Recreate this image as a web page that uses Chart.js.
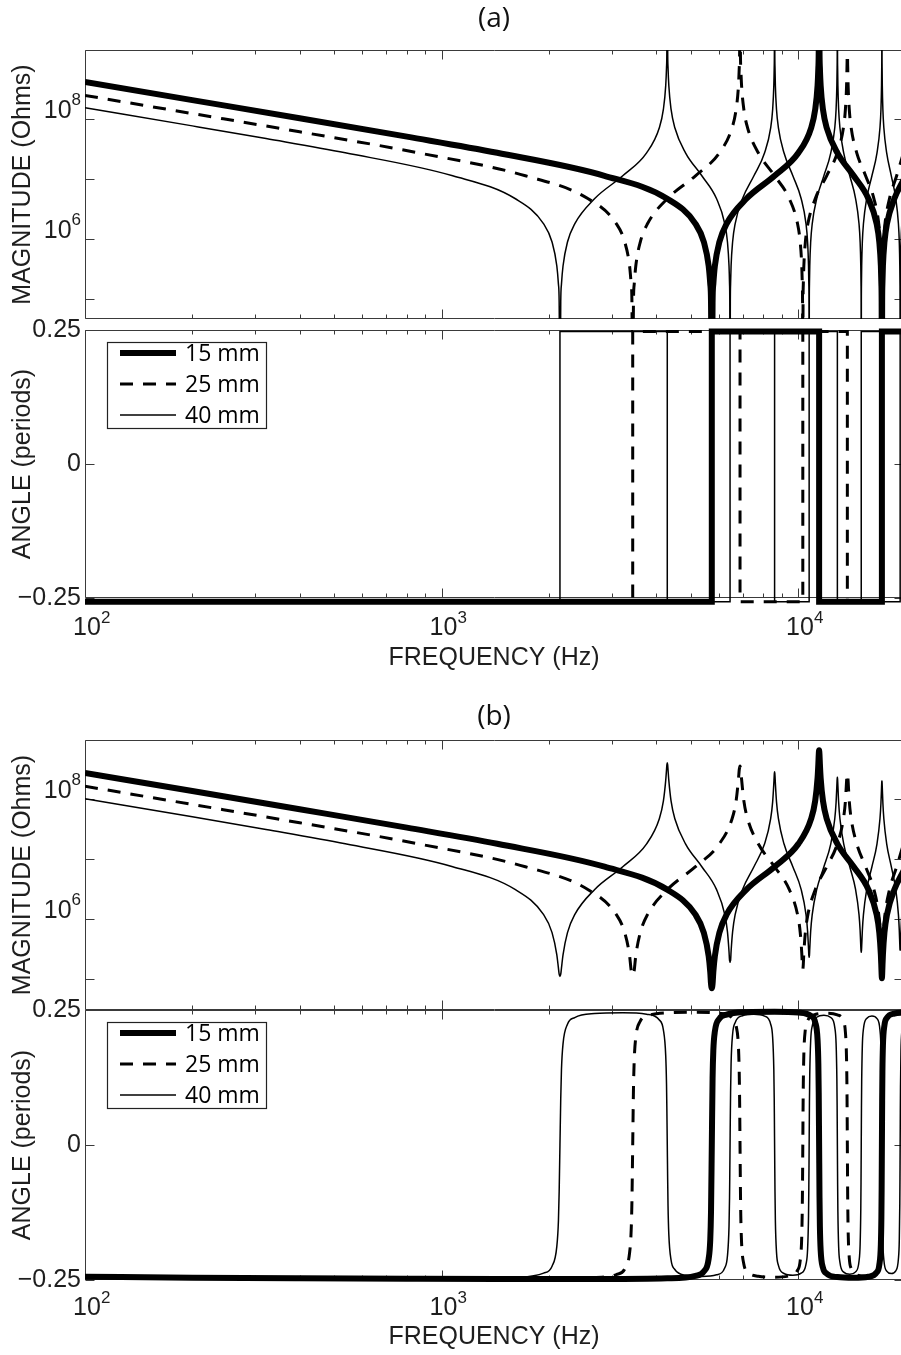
<!DOCTYPE html>
<html>
<head>
<meta charset="utf-8">
<title>Line impedance: magnitude and angle</title>
<script src="https://cdn.jsdelivr.net/npm/chart.js@4.4.1/dist/chart.umd.min.js"></script>
<style>
  html, body { margin: 0; padding: 0; background: #fff; }
  #figure { position: relative; width: 901px; height: 1355px; overflow: hidden; background: #fff; }
  #figure canvas { position: absolute; left: 0; }
</style>
</head>
<body>
<div id="figure">
  <canvas id="mag-a" width="910" height="330" style="top:0px"></canvas>
  <canvas id="ang-a" width="910" height="380" style="top:300px"></canvas>
  <canvas id="mag-b" width="910" height="320" style="top:690px"></canvas>
  <canvas id="ang-b" width="910" height="375" style="top:980px"></canvas>
</div>
<script>
Chart.defaults.font.family = '"Liberation Sans", Arial, sans-serif';

const seriesLabels = ['15 mm', '25 mm', '40 mm'];

// frequency grids (Hz)
const freq15 = [100, 200, 400, 800, 1433, 2865, 4298, 5157, 5444, 5615, 5673, 5701, 5730,
  5759, 5787, 5845, 6017, 6303, 7163, 8595, 10028, 10887, 11174, 11345, 11403, 11431, 11460,
  11489, 11517, 11575, 11747, 12033, 12893, 14325, 15758, 16617, 16904, 17075, 17132, 17161, 17190,
  17219, 17247, 17305, 17477, 17763, 18623, 19769];

const freq25 = [100, 200, 400, 860, 1719, 2579, 3094, 3266, 3369, 3404, 3421, 3438,
  3455, 3472, 3507, 3610, 3782, 4298, 5157, 6017, 6532, 6704, 6807, 6842, 6859, 6876,
  6893, 6910, 6945, 7048, 7220, 7736, 8595, 9455, 9970, 10142, 10245, 10280, 10297, 10314,
  10331, 10348, 10383, 10486, 10658, 11174, 12033, 12893, 13408, 13580, 13683, 13718, 13735, 13752,
  13769, 13786, 13821, 13924, 14096, 14612, 15471, 16331, 16846, 17018, 17121, 17156, 17173, 17190,
  17207, 17224, 17259, 17362, 17534, 18050, 18909, 19769];

const freq40 = [100, 200, 322, 537, 1075, 1612, 1934, 2042, 2106, 2128, 2138, 2149,
  2160, 2170, 2192, 2256, 2364, 2686, 3224, 3761, 4083, 4191, 4255, 4277, 4287, 4298,
  4309, 4319, 4341, 4405, 4513, 4835, 5373, 5910, 6232, 6340, 6404, 6426, 6436, 6447,
  6458, 6469, 6490, 6554, 6662, 6984, 7522, 8059, 8381, 8489, 8553, 8575, 8585, 8596,
  8607, 8618, 8639, 8703, 8811, 9133, 9671, 10208, 10530, 10638, 10702, 10723, 10734, 10745,
  10756, 10766, 10788, 10852, 10960, 11282, 11820, 12357, 12679, 12787, 12851, 12873, 12883, 12894,
  12905, 12915, 12937, 13001, 13109, 13431, 13969, 14506, 14828, 14936, 15000, 15022, 15032, 15043,
  15054, 15064, 15086, 15150, 15258, 15580, 16118, 16655, 16977, 17085, 17149, 17171, 17181, 17192,
  17203, 17213, 17235, 17299, 17407, 17729, 18267, 18804, 19126, 19234, 19298, 19320, 19330, 19341,
  19352, 19362, 19384, 19448, 19556, 19771];

// (a) magnitude, Ohms
const magA15 = [4.12e8, 2.06e8, 1.03e8, 5.07e7, 2.73e7, 1.13e7, 4.68e6, 1.79e6, 8.89e5, 3.55e5, 1.77e5, 8.87e4, 1e3,
  8.87e4, 1.77e5, 3.55e5, 8.89e5, 1.79e6, 4.68e6, 1.13e7, 2.73e7, 7.13e7, 1.44e8, 3.60e8, 7.19e8, 1.44e9, 1e11,
  1.44e9, 7.19e8, 3.60e8, 1.44e8, 7.13e7, 2.73e7, 1.13e7, 4.68e6, 1.79e6, 8.89e5, 3.55e5, 1.77e5, 8.87e4, 1e3,
  8.87e4, 1.77e5, 3.55e5, 8.89e5, 1.79e6, 4.68e6, 9.66e6];

const magA25 = [2.47e8, 1.23e8, 6.11e7, 2.73e7, 1.13e7, 4.68e6, 1.79e6, 8.89e5, 3.55e5, 1.77e5, 8.87e4, 1e3,
  8.87e4, 1.77e5, 3.55e5, 8.89e5, 1.79e6, 4.68e6, 1.13e7, 2.73e7, 7.13e7, 1.44e8, 3.60e8, 7.19e8, 1.44e9, 1e11,
  1.44e9, 7.19e8, 3.60e8, 1.44e8, 7.13e7, 2.73e7, 1.13e7, 4.68e6, 1.79e6, 8.89e5, 3.55e5, 1.77e5, 8.87e4, 1e3,
  8.87e4, 1.77e5, 3.55e5, 8.89e5, 1.79e6, 4.68e6, 1.13e7, 2.73e7, 7.13e7, 1.44e8, 3.60e8, 7.19e8, 1.44e9, 1e11,
  1.44e9, 7.19e8, 3.60e8, 1.44e8, 7.13e7, 2.73e7, 1.13e7, 4.68e6, 1.79e6, 8.89e5, 3.55e5, 1.77e5, 8.87e4, 1e3,
  8.87e4, 1.77e5, 3.55e5, 8.89e5, 1.79e6, 4.68e6, 1.13e7, 2.73e7];

const magA40 = [1.54e8, 7.67e7, 4.71e7, 2.73e7, 1.13e7, 4.68e6, 1.79e6, 8.89e5, 3.55e5, 1.77e5, 8.87e4, 1e3,
  8.87e4, 1.77e5, 3.55e5, 8.89e5, 1.79e6, 4.68e6, 1.13e7, 2.73e7, 7.13e7, 1.44e8, 3.60e8, 7.19e8, 1.44e9, 1e11,
  1.44e9, 7.19e8, 3.60e8, 1.44e8, 7.13e7, 2.73e7, 1.13e7, 4.68e6, 1.79e6, 8.89e5, 3.55e5, 1.77e5, 8.87e4, 1e3,
  8.87e4, 1.77e5, 3.55e5, 8.89e5, 1.79e6, 4.68e6, 1.13e7, 2.73e7, 7.13e7, 1.44e8, 3.60e8, 7.19e8, 1.44e9, 1e11,
  1.44e9, 7.19e8, 3.60e8, 1.44e8, 7.13e7, 2.73e7, 1.13e7, 4.68e6, 1.79e6, 8.89e5, 3.55e5, 1.77e5, 8.87e4, 1e3,
  8.87e4, 1.77e5, 3.55e5, 8.89e5, 1.79e6, 4.68e6, 1.13e7, 2.73e7, 7.13e7, 1.44e8, 3.60e8, 7.19e8, 1.44e9, 1e11,
  1.44e9, 7.19e8, 3.60e8, 1.44e8, 7.13e7, 2.73e7, 1.13e7, 4.68e6, 1.79e6, 8.89e5, 3.55e5, 1.77e5, 8.87e4, 1e3,
  8.87e4, 1.77e5, 3.55e5, 8.89e5, 1.79e6, 4.68e6, 1.13e7, 2.73e7, 7.13e7, 1.44e8, 3.60e8, 7.19e8, 1.44e9, 1e11,
  1.44e9, 7.19e8, 3.60e8, 1.44e8, 7.13e7, 2.73e7, 1.13e7, 4.68e6, 1.79e6, 8.89e5, 3.55e5, 1.77e5, 8.87e4, 1e3,
  8.87e4, 1.77e5, 3.55e5, 8.89e5, 1.79e6, 3.67e6];

// (a) angle, periods (ideal steps)
const stepFreq15 = [100, 5730, 11460, 17190, 19800];
const stepAngA15 = [-0.257, 0.247, -0.257, 0.247, 0.247];
const stepFreq25 = [100, 3438, 6876, 10314, 13752, 17190, 19800];
const stepAngA25 = [-0.257, 0.247, -0.257, 0.247, -0.257, 0.247, 0.247];
const stepFreq40 = [100, 2149, 4298, 6447, 8596, 10745, 12894, 15043, 17192, 19341, 19800];
const stepAngA40 = [-0.257, 0.247, -0.257, 0.247, -0.257, 0.247, -0.257, 0.247, -0.257, 0.247, 0.247];

// (b) magnitude, Ohms
const magB15 = [2.71e8, 1.36e8, 6.75e7, 3.33e7, 1.79e7, 7.43e6, 3.08e6, 1.18e6, 5.87e5, 2.41e5, 1.31e5, 8.3e4, 7.0e4,
  8.3e4, 1.31e5, 2.41e5, 5.87e5, 1.18e6, 3.08e6, 7.43e6, 1.79e7, 4.69e7, 9.35e7, 2.23e8, 3.85e8, 5.41e8, 6.5e8,
  5.41e8, 3.85e8, 2.23e8, 9.35e7, 4.69e7, 1.79e7, 7.43e6, 3.08e6, 1.18e6, 5.93e5, 2.55e5, 1.55e5, 1.18e5, 1.03e5,
  1.18e5, 1.55e5, 2.55e5, 5.93e5, 1.18e6, 3.08e6, 6.35e6];

const magB25 = [1.63e8, 8.11e7, 4.02e7, 1.79e7, 7.43e6, 3.08e6, 1.18e6, 5.90e5, 2.45e5, 1.40e5, 1.25e5, 1.15e5,
  1.25e5, 1.40e5, 2.45e5, 5.90e5, 1.18e6, 3.08e6, 7.43e6, 1.79e7, 4.69e7, 9.29e7, 2.15e8, 3.1e8, 3.35e8, 3.55e8,
  3.35e8, 3.1e8, 2.15e8, 9.29e7, 4.69e7, 1.79e7, 7.43e6, 3.08e6, 1.18e6, 6.0e5, 2.69e5, 1.77e5, 1.55e5, 1.45e5,
  1.55e5, 1.77e5, 2.69e5, 6.0e5, 1.18e6, 3.08e6, 7.43e6, 1.79e7, 4.69e7, 9.14e7, 1.98e8, 2.45e8, 2.55e8, 2.63e8,
  2.55e8, 2.45e8, 1.98e8, 9.14e7, 4.69e7, 1.79e7, 7.43e6, 3.08e6, 1.18e6, 6.10e5, 2.89e5, 2.07e5, 1.81e5, 1.71e5,
  1.81e5, 2.07e5, 2.89e5, 6.10e5, 1.18e6, 3.08e6, 7.43e6, 1.79e7];

const magB40 = [1.01e8, 5.05e7, 3.10e7, 1.79e7, 7.43e6, 3.08e6, 1.18e6, 5.92e5, 2.53e5, 1.52e5, 1.2e5, 1.1e5,
  1.2e5, 1.52e5, 2.53e5, 5.93e5, 1.18e6, 3.08e6, 7.43e6, 1.79e7, 4.69e7, 9.20e7, 2.04e8, 3.07e8, 3.7e8, 4.0e8,
  3.7e8, 3.07e8, 2.04e8, 9.20e7, 4.69e7, 1.79e7, 7.43e6, 3.08e6, 1.18e6, 6.08e5, 2.87e5, 2.04e5, 2.0e5, 1.9e5,
  2.0e5, 2.04e5, 2.87e5, 6.08e5, 1.18e6, 3.08e6, 7.43e6, 1.79e7, 4.69e7, 8.95e7, 1.82e8, 2.44e8, 2.7e8, 2.85e8,
  2.7e8, 2.44e8, 1.82e8, 8.95e7, 4.69e7, 1.79e7, 7.43e6, 3.08e6, 1.18e6, 6.24e5, 3.18e5, 2.46e5, 2.4e5, 2.3e5,
  2.4e5, 2.46e5, 3.18e5, 6.24e5, 1.18e6, 3.08e6, 7.43e6, 1.79e7, 4.69e7, 8.75e7, 1.66e8, 2.09e8, 2.2e8, 2.3e8,
  2.2e8, 2.09e8, 1.66e8, 8.75e7, 4.69e7, 1.79e7, 7.43e6, 3.08e6, 1.18e6, 6.38e5, 3.47e5, 2.95e5, 2.9e5, 2.8e5,
  2.9e5, 2.95e5, 3.47e5, 6.38e5, 1.18e6, 3.08e6, 7.43e6, 1.79e7, 4.69e7, 8.55e7, 1.53e8, 1.85e8, 1.95e8, 2.0e8,
  1.95e8, 1.85e8, 1.53e8, 8.55e7, 4.69e7, 1.79e7, 7.43e6, 3.08e6, 1.18e6, 6.46e5, 3.72e5, 3.13e5, 3.05e5, 3.0e5,
  3.05e5, 3.13e5, 3.72e5, 6.46e5, 1.18e6, 2.42e6];

// (b) angle, periods
const angB15 = [-0.2439, -0.2457, -0.2469, -0.2478, -0.2482, -0.2482, -0.2469, -0.2422, -0.2342, -0.2107, -0.1755, -0.1237, 0,
  0.1237, 0.1751, 0.2104, 0.2338, 0.2414, 0.2460, 0.2469, 0.2453, 0.2387, 0.2272, 0.1951, 0.1508, 0.0967, 0,
  -0.0967, -0.1508, -0.1951, -0.2272, -0.2381, -0.2446, -0.2460, -0.2440, -0.2360, -0.2221, -0.1840, -0.1351, -0.0822, 0,
  0.0822, 0.1351, 0.1840, 0.2221, 0.2355, 0.2435, 0.2452];

const angB25 = [-0.2439, -0.2456, -0.2469, -0.2477, -0.2477, -0.2460, -0.2399, -0.2297, -0.2000, -0.1579, -0.1036, 0,
  0.1036, 0.1576, 0.1995, 0.2292, 0.2389, 0.2448, 0.2460, 0.2439, 0.2354, 0.2207, 0.1808, 0.1309, 0.0787, 0,
  -0.0787, -0.1309, -0.1808, -0.2207, -0.2347, -0.2430, -0.2448, -0.2423, -0.2320, -0.2143, -0.1678, -0.1148, -0.0660, 0,
  0.0660, 0.1148, 0.1678, 0.2143, 0.2314, 0.2416, 0.2439, 0.2410, 0.2292, 0.2090, 0.1576, 0.1036, 0.0580, 0,
  -0.0580, -0.1036, -0.1576, -0.2090, -0.2286, -0.2404, -0.2430, -0.2399, -0.2267, -0.2044, -0.1492, -0.0952, -0.0523, 0,
  0.0523, 0.0952, 0.1492, 0.2044, 0.2262, 0.2394, 0.2423, 0.2389];

const angB40 = [-0.2439, -0.2456, -0.2465, -0.2471, -0.2471, -0.2449, -0.2373, -0.2244, -0.1876, -0.1401, -0.0864, 0,
  0.0864, 0.1398, 0.1874, 0.2237, 0.2359, 0.2434, 0.2449, 0.2422, 0.2315, 0.2132, 0.1655, 0.1124, 0.0641, 0,
  -0.0641, -0.1124, -0.1655, -0.2132, -0.2306, -0.2412, -0.2434, -0.2403, -0.2273, -0.2052, -0.1507, -0.0967, -0.0533, 0,
  0.0533, 0.0967, 0.1507, 0.2052, 0.2266, 0.2394, 0.2422, 0.2387, 0.2237, 0.1988, 0.1397, 0.0864, 0.0466, 0,
  -0.0466, -0.0864, -0.1397, -0.1988, -0.2230, -0.2380, -0.2412, -0.2373, -0.2206, -0.1932, -0.1309, -0.0787, -0.0419, 0,
  0.0419, 0.0787, 0.1309, 0.1932, 0.2201, 0.2366, 0.2403, 0.2360, 0.2178, 0.1883, 0.1237, 0.0727, 0.0384, 0,
  -0.0384, -0.0727, -0.1237, -0.1883, -0.2173, -0.2354, -0.2394, -0.2349, -0.2152, -0.1839, -0.1175, -0.0680, -0.0356, 0,
  0.0356, 0.0680, 0.1175, 0.1839, 0.2148, 0.2344, 0.2387, 0.2339, 0.2128, 0.1798, 0.1123, 0.0641, 0.0334, 0,
  -0.0334, -0.0641, -0.1123, -0.1798, -0.2124, -0.2335, -0.2380, -0.2330, -0.2106, -0.1762, -0.1077, -0.0608, -0.0316, 0,
  0.0316, 0.0608, 0.1077, 0.1762, 0.2103, 0.2287];

// ticks
const freqTicks = [100, 1000, 10000];
const freqTickLabels = ['10^2', '10^3', '10^4'];
const freqMinorTicks = [200, 300, 400, 500, 600, 700, 800, 900, 2000, 3000, 4000, 5000, 6000, 7000, 8000, 9000];
const magTicks = [1e5, 1e6, 1e7, 1e8];
const magTickLabels = ['', '10^6', '', '10^8'];
const angTicks = [-0.25, 0, 0.25];
const angTickLabels = ['\u22120.25', '0', '0.25'];

const X_MIN = 100;
const X_MAX = 19700;

const lineWidths = [6, 3, 1.5];
const lineDashes = [[], [13, 10], []];

const toPoints = (xs, ys) => xs.map((x, i) => ({ x: x, y: ys[i] }));

const makeDatasets = (series, extra) => series.map(([xs, ys], i) => ({
  label: seriesLabels[i],
  data: toPoints(xs, ys),
  borderColor: '#000',
  borderWidth: lineWidths[i],
  borderDash: lineDashes[i],
  pointRadius: 0,
  fill: false,
  ...extra
}));

// draws a "10^n" or plain label; align is 'right' or 'center' (center on the base part)
const drawTickText = (ctx, text, x, y, align) => {
  const parts = text.split('^');
  ctx.font = '25px "Liberation Sans", Arial, sans-serif';
  const wBase = ctx.measureText(parts[0]).width;
  if (parts.length === 1) {
    ctx.textAlign = align;
    ctx.textBaseline = 'middle';
    ctx.fillText(parts[0], x, y);
    return;
  }
  ctx.font = '17px "Liberation Sans", Arial, sans-serif';
  const wExp = ctx.measureText(parts[1]).width;
  const left = align === 'right' ? x - wBase - wExp : x - wBase / 2;
  ctx.textAlign = 'left';
  ctx.textBaseline = 'alphabetic';
  ctx.fillText(parts[1], left + wBase, y - 12.5);
  ctx.font = '25px "Liberation Sans", Arial, sans-serif';
  ctx.fillText(parts[0], left, y);
};

// box, inward ticks, tick labels and the legend, MATLAB style
const axisDecor = {
  id: 'axisDecor',
  beforeDatasetsDraw(chart, args, opts) {
    const { ctx, chartArea: a } = chart;
    const xs = chart.scales.x;
    const ys = chart.scales.y;
    const L = Math.round(a.left) + 0.5, R = Math.round(a.right) + 0.5;
    const T = Math.round(a.top) + 0.5, B = Math.round(a.bottom) - 0.5;
    ctx.save();
    ctx.strokeStyle = '#3a3a3a';
    ctx.lineWidth = 1;
    ctx.beginPath();
    ctx.rect(L, T, R - L, B - T);
    freqTicks.concat(freqMinorTicks).forEach((v) => {
      const len = freqTicks.includes(v) ? 9 : 4;
      const px = Math.round(xs.getPixelForValue(v)) + 0.5;
      ctx.moveTo(px, T); ctx.lineTo(px, T + len);
      ctx.moveTo(px, B); ctx.lineTo(px, B - len);
    });
    opts.yTicks.forEach((v) => {
      const py = Math.round(ys.getPixelForValue(v)) + 0.5;
      ctx.moveTo(L, py); ctx.lineTo(L + 9, py);
      ctx.moveTo(R, py); ctx.lineTo(R - 9, py);
    });
    ctx.stroke();
    ctx.restore();
  },
  afterDraw(chart, args, opts) {
    const { ctx, chartArea: a } = chart;
    const xs = chart.scales.x;
    const ys = chart.scales.y;
    ctx.save();
    ctx.fillStyle = '#1e1e1e';
    opts.yTicks.forEach((v, i) => {
      const label = opts.yLabels[i];
      if (!label) return;
      const py = ys.getPixelForValue(v);
      drawTickText(ctx, label, a.left - 4, label.includes('^') ? py - 1 : py, 'right');
    });
    if (opts.xLabels) {
      freqTicks.forEach((v, i) => {
        drawTickText(ctx, freqTickLabels[i], xs.getPixelForValue(v) + 2, a.bottom + opts.xLabelGap, 'center');
      });
    }
    if (opts.legend) {
      const lx = a.left + 22, ly = Math.round(a.top) + 12;
      ctx.fillStyle = '#fff';
      ctx.fillRect(lx, ly, 159, 86);
      ctx.strokeStyle = '#222';
      ctx.lineWidth = 1.2;
      ctx.strokeRect(lx + 0.5, ly + 0.5, 159, 86);
      ctx.font = '23px "Open Sans", "Noto Sans", sans-serif';
      ctx.textAlign = 'left';
      ctx.textBaseline = 'middle';
      chart.data.datasets.forEach((ds, i) => {
        const rowY = ly + 11 + i * 31;
        ctx.beginPath();
        ctx.setLineDash(ds.borderDash);
        ctx.lineWidth = ds.borderWidth;
        ctx.strokeStyle = '#000';
        ctx.moveTo(lx + 13, rowY);
        ctx.lineTo(lx + 69, rowY);
        ctx.stroke();
        ctx.setLineDash([]);
        ctx.fillStyle = '#000';
        ctx.fillText(ds.label, lx + 78, rowY + 1);
      });
    }
    ctx.restore();
  }
};

const titleFont = { family: '"Liberation Sans", Arial, sans-serif', size: 25 };

const makePanel = (canvasId, p) => new Chart(document.getElementById(canvasId), {
  type: 'line',
  data: { datasets: p.datasets },
  options: {
    responsive: false,
    animation: false,
    events: [],
    layout: { padding: p.padding },
    plugins: {
      legend: { display: false },
      tooltip: { enabled: false },
      title: p.title ? {
        display: true,
        text: p.title,
        fullSize: false,
        color: '#111',
        font: { family: '"Open Sans", "Noto Sans", sans-serif', size: 28, weight: 'normal' },
        padding: p.titlePadding
      } : { display: false },
      axisDecor: p.decor
    },
    scales: {
      x: {
        type: 'logarithmic',
        min: X_MIN,
        max: X_MAX,
        display: p.xTitle ? true : false,
        grid: { display: false },
        border: { display: false },
        ticks: { display: false },
        title: p.xTitle ? { display: true, text: p.xTitle, color: '#1e1e1e', font: titleFont, padding: { top: 0, bottom: p.xTitlePad } } : { display: false },
        afterFit: (scale) => { scale.height = p.xHeight || 0; }
      },
      y: {
        type: p.yType,
        min: p.yMin,
        max: p.yMax,
        grid: { display: false },
        border: { display: false },
        ticks: { display: false },
        title: { display: true, text: p.yTitle, color: '#1e1e1e', font: titleFont, padding: { top: 8, bottom: 0 } },
        afterFit: (scale) => { scale.width = 85; }
      }
    }
  },
  plugins: [axisDecor]
});

const magSeriesA = [[freq15, magA15], [freq25, magA25], [freq40, magA40]];
const magSeriesB = [[freq15, magB15], [freq25, magB25], [freq40, magB40]];
const angSeriesA = [[stepFreq15, stepAngA15], [stepFreq25, stepAngA25], [stepFreq40, stepAngA40]];
const angSeriesB = [[freq15, angB15], [freq25, angB25], [freq40, angB40]];

makePanel('mag-a', {
  datasets: makeDatasets(magSeriesA, { cubicInterpolationMode: 'monotone', clip: 0 }),
  padding: { left: 0, right: 7, top: 0, bottom: 11 },
  title: '(a)', titlePadding: { top: 2, bottom: 14.4 },
  yType: 'logarithmic', yMin: 4.64e4, yMax: 1.41e9, yTitle: 'MAGNITUDE (Ohms)',
  decor: { yTicks: magTicks, yLabels: magTickLabels, xLabels: false }
});

makePanel('ang-a', {
  datasets: makeDatasets(angSeriesA, { stepped: true, clip: false }),
  padding: { left: 0, right: 7, top: 30, bottom: 0 },
  yType: 'linear', yMin: -0.25, yMax: 0.25, yTitle: 'ANGLE (periods)',
  xTitle: 'FREQUENCY (Hz)', xTitlePad: 7, xHeight: 82,
  decor: { yTicks: angTicks, yLabels: angTickLabels, xLabels: true, xLabelGap: 37, legend: true }
});

makePanel('mag-b', {
  datasets: makeDatasets(magSeriesB, { cubicInterpolationMode: 'monotone', clip: 0 }),
  padding: { left: 0, right: 7, top: 0, bottom: 0 },
  title: '(b)', titlePadding: { top: 10, bottom: 6.4 },
  yType: 'logarithmic', yMin: 3.04e4, yMax: 9.62e8, yTitle: 'MAGNITUDE (Ohms)',
  decor: { yTicks: magTicks, yLabels: magTickLabels, xLabels: false }
});

makePanel('ang-b', {
  datasets: makeDatasets(angSeriesB, { cubicInterpolationMode: 'monotone', clip: false }),
  padding: { left: 0, right: 7, top: 30, bottom: 0 },
  yType: 'linear', yMin: -0.25, yMax: 0.25, yTitle: 'ANGLE (periods)',
  xTitle: 'FREQUENCY (Hz)', xTitlePad: 3, xHeight: 75,
  decor: { yTicks: angTicks, yLabels: angTickLabels, xLabels: true, xLabelGap: 35, legend: true }
});
</script>
</body>
</html>
